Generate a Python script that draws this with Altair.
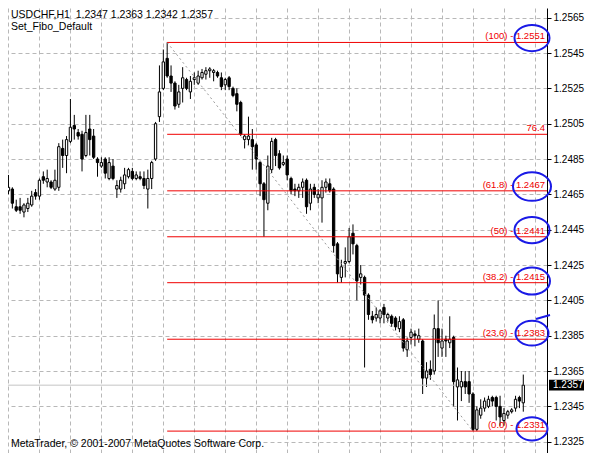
import altair as alt
import pandas as pd

# ---------------- data ----------------
opens = [1.2467, 1.2468, 1.2458, 1.2458, 1.2455, 1.2457, 1.2459, 1.2466, 1.2464, 1.2475,
         1.2472, 1.2472, 1.2468, 1.2469, 1.2491, 1.2487, 1.2495, 1.2504, 1.2500, 1.2499,
         1.2487, 1.2502, 1.2498, 1.2485, 1.2481, 1.2485, 1.2474, 1.2481, 1.2468, 1.2468,
         1.2471, 1.2475, 1.2478, 1.2474, 1.2475, 1.2474, 1.2468, 1.2474, 1.2485, 1.2509,
         1.2525, 1.2542, 1.2532, 1.2528, 1.2516, 1.2525, 1.2530, 1.2523, 1.2530, 1.2528,
         1.2531, 1.2533, 1.2535, 1.2534, 1.2534, 1.2531, 1.2527, 1.2531, 1.2525, 1.2522,
         1.2517, 1.2496, 1.2496, 1.2496, 1.2493, 1.2483, 1.2471, 1.2460, 1.2479, 1.2496,
         1.2488, 1.2482, 1.2485, 1.2474, 1.2468, 1.2467, 1.2469, 1.2473, 1.2460, 1.2469,
         1.2463, 1.2463, 1.2469, 1.2471, 1.2468, 1.2437, 1.2418, 1.2426, 1.2427, 1.2443,
         1.2436, 1.2418, 1.2418, 1.2408, 1.2396, 1.2395, 1.2395, 1.2401, 1.2395, 1.2396,
         1.2395, 1.2389, 1.2394, 1.2377, 1.2384, 1.2386, 1.2383, 1.2382, 1.2361, 1.2366,
         1.2365, 1.2389, 1.2378, 1.2383, 1.2381, 1.2384, 1.2356, 1.2356, 1.2359, 1.2359,
         1.2352, 1.2332, 1.2340, 1.2344, 1.2345, 1.2350, 1.2350, 1.2345, 1.2337, 1.2340,
         1.2342, 1.2344, 1.2350, 1.2347]
highs = [1.2476, 1.2469, 1.2462, 1.2463, 1.2460, 1.2463, 1.2467, 1.2468, 1.2474, 1.2478,
         1.2479, 1.2473, 1.2479, 1.2494, 1.2496, 1.2498, 1.2519, 1.2510, 1.2502, 1.2501,
         1.2510, 1.2510, 1.2502, 1.2486, 1.2486, 1.2486, 1.2486, 1.2485, 1.2473, 1.2475,
         1.2480, 1.2480, 1.2480, 1.2478, 1.2478, 1.2478, 1.2479, 1.2484, 1.2506, 1.2538,
         1.2547, 1.2551, 1.2538, 1.2529, 1.2527, 1.2537, 1.2531, 1.2532, 1.2534, 1.2535,
         1.2536, 1.2537, 1.2537, 1.2536, 1.2535, 1.2534, 1.2531, 1.2532, 1.2526, 1.2525,
         1.2518, 1.2499, 1.2509, 1.2502, 1.2494, 1.2484, 1.2472, 1.2487, 1.2497, 1.2497,
         1.2490, 1.2487, 1.2487, 1.2475, 1.2471, 1.2471, 1.2474, 1.2474, 1.2471, 1.2471,
         1.2468, 1.2473, 1.2474, 1.2474, 1.2469, 1.2438, 1.2428, 1.2435, 1.2446, 1.2448,
         1.2437, 1.2425, 1.2419, 1.2409, 1.2399, 1.2401, 1.2400, 1.2403, 1.2398, 1.2397,
         1.2396, 1.2396, 1.2395, 1.2384, 1.2389, 1.2388, 1.2389, 1.2383, 1.2370, 1.2371,
         1.2397, 1.2405, 1.2389, 1.2385, 1.2396, 1.2385, 1.2367, 1.2365, 1.2365, 1.2365,
         1.2353, 1.2345, 1.2349, 1.2350, 1.2351, 1.2351, 1.2351, 1.2351, 1.2344, 1.2343,
         1.2344, 1.2351, 1.2351, 1.2363]
lows = [1.2465, 1.2457, 1.2455, 1.2454, 1.2452, 1.2455, 1.2458, 1.2462, 1.2462, 1.2471,
        1.2469, 1.2468, 1.2467, 1.2467, 1.2480, 1.2477, 1.2494, 1.2496, 1.2496, 1.2478,
        1.2486, 1.2487, 1.2485, 1.2475, 1.2480, 1.2474, 1.2473, 1.2473, 1.2463, 1.2466,
        1.2468, 1.2474, 1.2473, 1.2473, 1.2473, 1.2468, 1.2457, 1.2468, 1.2484, 1.2506,
        1.2524, 1.2531, 1.2523, 1.2513, 1.2514, 1.2517, 1.2524, 1.2519, 1.2527, 1.2527,
        1.2530, 1.2530, 1.2531, 1.2529, 1.2531, 1.2524, 1.2524, 1.2524, 1.2520, 1.2512,
        1.2498, 1.2491, 1.2493, 1.2479, 1.2479, 1.2464, 1.2441, 1.2456, 1.2477, 1.2481,
        1.2479, 1.2481, 1.2473, 1.2465, 1.2464, 1.2463, 1.2463, 1.2454, 1.2456, 1.2463,
        1.2460, 1.2449, 1.2466, 1.2466, 1.2432, 1.2415, 1.2415, 1.2418, 1.2426, 1.2431,
        1.2405, 1.2414, 1.2367, 1.2394, 1.2392, 1.2393, 1.2392, 1.2392, 1.2393, 1.2390,
        1.2388, 1.2387, 1.2376, 1.2373, 1.2380, 1.2379, 1.2381, 1.2352, 1.2356, 1.2360,
        1.2363, 1.2373, 1.2373, 1.2373, 1.2378, 1.2345, 1.2337, 1.2348, 1.2352, 1.2347,
        1.2331, 1.2331, 1.2338, 1.2342, 1.2344, 1.2345, 1.2337, 1.2334, 1.2334, 1.2338,
        1.2341, 1.2342, 1.2344, 1.2342]
closes = [1.2469, 1.2460, 1.2456, 1.2456, 1.2459, 1.2460, 1.2464, 1.2464, 1.2473, 1.2473,
          1.2474, 1.2469, 1.2473, 1.2492, 1.2487, 1.2496, 1.2503, 1.2502, 1.2498, 1.2485,
          1.2500, 1.2496, 1.2486, 1.2483, 1.2483, 1.2477, 1.2483, 1.2474, 1.2470, 1.2473,
          1.2476, 1.2479, 1.2474, 1.2476, 1.2474, 1.2470, 1.2474, 1.2483, 1.2505, 1.2523,
          1.2540, 1.2532, 1.2528, 1.2515, 1.2523, 1.2531, 1.2525, 1.2529, 1.2531, 1.2532,
          1.2534, 1.2535, 1.2536, 1.2535, 1.2532, 1.2526, 1.2530, 1.2526, 1.2521, 1.2516,
          1.2499, 1.2498, 1.2498, 1.2492, 1.2485, 1.2471, 1.2462, 1.2481, 1.2495, 1.2487,
          1.2480, 1.2483, 1.2476, 1.2467, 1.2467, 1.2469, 1.2472, 1.2458, 1.2468, 1.2465,
          1.2465, 1.2469, 1.2472, 1.2467, 1.2436, 1.2420, 1.2424, 1.2427, 1.2441, 1.2437,
          1.2416, 1.2420, 1.2408, 1.2397, 1.2394, 1.2397, 1.2399, 1.2397, 1.2397, 1.2392,
          1.2390, 1.2393, 1.2378, 1.2382, 1.2387, 1.2385, 1.2385, 1.2361, 1.2365, 1.2363,
          1.2389, 1.2381, 1.2382, 1.2382, 1.2383, 1.2359, 1.2360, 1.2359, 1.2356, 1.2352,
          1.2332, 1.2343, 1.2344, 1.2348, 1.2349, 1.2348, 1.2345, 1.2339, 1.2341, 1.2342,
          1.2343, 1.2349, 1.2348, 1.2357]

symbol = "USDCHF,H1"
template_name = "Set_Fibo_Default"
copyright_text = "MetaTrader, \u00a9 2001-2007 MetaQuotes Software Corp."

fib_prices = [1.2551, 1.2499, 1.2467, 1.2441, 1.2415, 1.2383, 1.2331]
fib_labels = ["(100) - 1.2551", "76.4", "(61.8) - 1.2467", "(50) - 1.2441",
              "(38.2) - 1.2415", "(23.6) - 1.2383", "(0.0) - 1.2331"]
fib_high_bar = 41
fib_low_bar = 120

price_ticks = [1.2565, 1.2545, 1.2525, 1.2505, 1.2485, 1.2465, 1.2445,
               1.2425, 1.2405, 1.2385, 1.2365, 1.2345, 1.2325]
time_grid_bars = [0, 8, 16, 24, 32, 40, 48, 56, 64, 72, 80, 88, 96, 104, 112, 120, 128, 136]
bid_price = 1.2357

circle_prices = [1.25535, 1.24694, 1.24448, 1.24159, 1.23864, 1.23323]
circle_widths = [35, 38, 35, 36, 33, 31]
tail_prices = [1.23945, 1.23967]

# ---------------- styling ----------------
W, H = 539, 445
PAD_R = 40
FONT = "Liberation Sans"
GRID = "#b8b8b8"
RED = "#f00000"
BLUE = "#1a1ae6"

x_scale = alt.Scale(domain=[-0.125, 139.125], nice=False, zero=False)
y_scale = alt.Scale(domain=[1.23186, 1.25705], nice=False, zero=False)

x_axis = alt.Axis(values=time_grid_bars, grid=True, gridDash=[4, 3],
                  gridColor=GRID, gridOpacity=1, labels=False, ticks=False,
                  domain=False, title=None)
y_axis = alt.Axis(orient="right", values=price_ticks, format=".4f",
                  grid=True, gridDash=[4, 3], gridColor=GRID, gridOpacity=1,
                  domainColor="black", domainWidth=1, tickColor="black",
                  tickSize=4, labelPadding=2, labelFont=FONT,
                  labelFontSize=10, labelColor="black", title=None,
                  labelOverlap=False)


def X(field):
    return alt.X(field, scale=x_scale, axis=x_axis)


def Y(field):
    return alt.Y(field, scale=y_scale, axis=y_axis)


df = pd.DataFrame({"i": list(range(len(opens))), "o": opens, "h": highs,
                   "l": lows, "c": closes})

wicks = alt.Chart(df).transform_calculate(
    lo="min(datum.l, datum.o, datum.c)", hi="max(datum.h, datum.o, datum.c)"
).mark_rule(color="black", strokeWidth=1).encode(
    x=X("i:Q"), y=Y("lo:Q"), y2="hi:Q",
)

bodies = alt.Chart(df).transform_calculate(
    x0="datum.i - 0.3", x1="datum.i + 0.3"
).mark_rect(stroke="black", strokeWidth=1).encode(
    x=X("x0:Q"), x2="x1:Q",
    y=Y("o:Q"), y2="c:Q",
    fill=alt.when(alt.datum.c >= alt.datum.o).then(alt.value("white")).otherwise(alt.value("black")),
)

bid_df = pd.DataFrame({"p": [bid_price], "t": [f"{bid_price:.4f}"]})
bid_line = alt.Chart(bid_df).mark_rule(color="#c4c4c4", strokeWidth=1).encode(
    y=Y("p:Q")
)

fib_df = pd.DataFrame({"p": fib_prices, "label": fib_labels,
                       "start": [fib_high_bar] * len(fib_prices)})
fib_lines = alt.Chart(fib_df).mark_rule(color=RED, strokeWidth=1).encode(
    x=X("start:Q"), x2=alt.value(W), y=Y("p:Q"),
)
fib_text = alt.Chart(fib_df).mark_text(
    align="right", baseline="bottom", dy=-1, color=RED, font=FONT, fontSize=9.5
).encode(
    x=alt.value(W - 2), y=Y("p:Q"), text="label:N",
)

trend_df = pd.DataFrame({"i": [fib_high_bar, fib_low_bar],
                         "p": [fib_prices[0], fib_prices[-1]]})
trend = alt.Chart(trend_df).mark_line(color="#9a9a9a", strokeWidth=1,
                                      strokeDash=[2, 3]).encode(
    x=X("i:Q"), y=Y("p:Q"),
)

BOX = "M -1 -0.31 L 1 -0.31 L 1 0.31 L -1 0.31 Z"
bid_box = alt.Chart(bid_df).mark_point(shape=BOX, filled=True, color="black",
                                       opacity=1, size=35 * 35).encode(
    x=alt.value(W + 19.5), y=Y("p:Q"),
)
bid_text = alt.Chart(bid_df).mark_text(align="left", baseline="middle", color="white",
                                       font=FONT, fontSize=10).encode(
    x=alt.value(W + 6), y=Y("p:Q"), text="t:N",
)

ELLIPSE = "M -1 0 A 1 0.75 0 1 1 1 0 A 1 0.75 0 1 1 -1 0 Z"
circ_df = pd.DataFrame({"p": circle_prices, "s": [w * w for w in circle_widths]})
circles = alt.Chart(circ_df).mark_point(shape=ELLIPSE, filled=False, stroke=BLUE,
                                        strokeWidth=2, opacity=1).encode(
    x=alt.value(W - 15), y=Y("p:Q"),
    size=alt.Size("s:Q", scale=None, legend=None),
)
tail_df = pd.DataFrame({"p1": [tail_prices[0]], "p2": [tail_prices[1]]})
tail = alt.Chart(tail_df).mark_rule(color=BLUE, strokeWidth=2).encode(
    x=alt.value(W - 11), x2=alt.value(W + 3),
    y=Y("p1:Q"), y2="p2:Q",
)

head1 = f"{symbol}\u00a0\u00a0{opens[-1]:.4f} {highs[-1]:.4f} {lows[-1]:.4f} {closes[-1]:.4f}"
t1 = alt.Chart(pd.DataFrame({"t": [head1]})).mark_text(
    align="left", baseline="alphabetic", font=FONT, fontSize=10.5, color="black"
).encode(x=alt.value(3), y=alt.value(10), text="t:N")
t2 = alt.Chart(pd.DataFrame({"t": [template_name]})).mark_text(
    align="left", baseline="alphabetic", font=FONT, fontSize=10.5, color="black"
).encode(x=alt.value(3), y=alt.value(22), text="t:N")
t3 = alt.Chart(pd.DataFrame({"t": [copyright_text]})).mark_text(
    align="left", baseline="alphabetic", font=FONT, fontSize=10.5, color="black"
).encode(x=alt.value(3), y=alt.value(439), text="t:N")

chart = alt.layer(
    wicks, bid_line, bodies, trend, fib_lines, fib_text,
    bid_box, bid_text, circles, tail, t1, t2, t3
).properties(
    width=W, height=H,
    autosize=alt.AutoSizeParams(type="none"),
    padding={"left": 0, "top": 0, "right": PAD_R, "bottom": 0},
    background="white",
).configure_view(stroke=None)

chart.save("out.html", embed_options={"renderer": "svg", "actions": False})
